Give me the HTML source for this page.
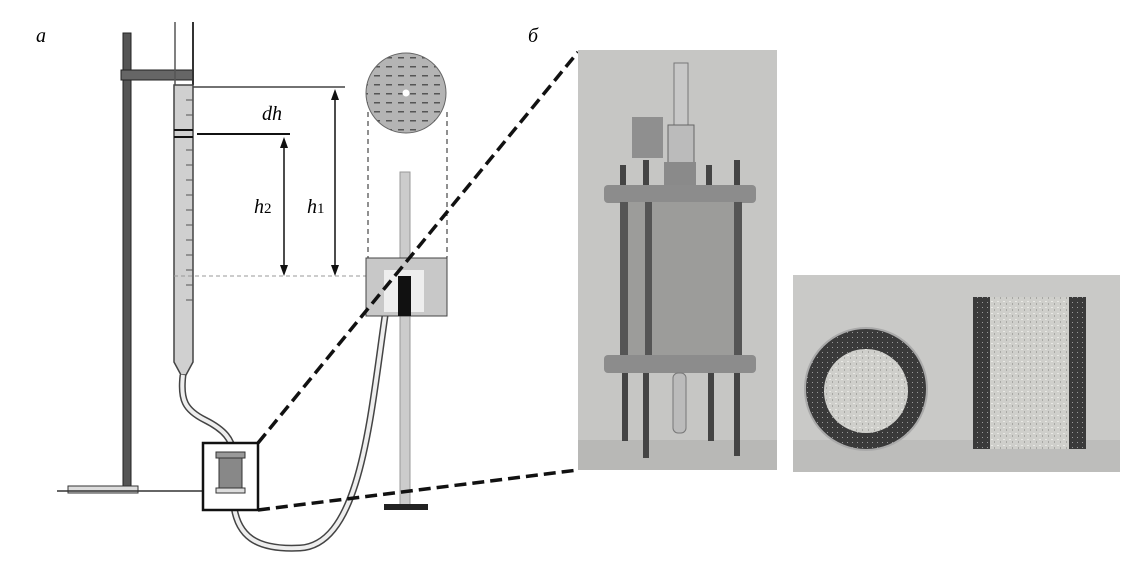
<!DOCTYPE html>
<html><head><meta charset="utf-8"><style>
html,body{margin:0;padding:0;background:#fff;}
svg{display:block;}
text{font-family:"Liberation Serif",serif;font-style:italic;}
</style></head><body>
<svg width="1147" height="561" viewBox="0 0 1147 561" xmlns="http://www.w3.org/2000/svg">
<defs>
<pattern id="grain" width="6" height="6" patternUnits="userSpaceOnUse">
<rect width="6" height="6" fill="#cfcfcb"/><rect x="1" y="1" width="2" height="1" fill="#e8e8e4"/><rect x="4" y="3" width="1" height="2" fill="#a8a8a4"/>
</pattern>
<pattern id="dark" width="5" height="5" patternUnits="userSpaceOnUse">
<rect width="5" height="5" fill="#3a3a3a"/><rect x="2" y="2" width="1" height="1" fill="#999"/>
</pattern>
<pattern id="dash" width="12" height="9" patternUnits="userSpaceOnUse">
<rect width="12" height="9" fill="#b4b4b4"/><rect x="2" y="3" width="6" height="1.5" fill="#555"/>
</pattern>
</defs>
<text x="36" y="42" font-size="20">а</text>
<text x="528" y="42" font-size="20">б</text>
<!-- stand -->
<rect x="123" y="33" width="8" height="457" fill="#555" stroke="#222"/>
<rect x="68" y="486" width="70" height="7" fill="#ddd" stroke="#333"/>
<line x1="57" y1="491" x2="215" y2="491" stroke="#333" stroke-width="1.5"/>
<rect x="121" y="70" width="72" height="10" fill="#666" stroke="#222"/>
<!-- burette -->
<line x1="175" y1="22" x2="175" y2="85" stroke="#555" stroke-width="1.5"/>
<line x1="193" y1="22" x2="193" y2="85" stroke="#333" stroke-width="2"/>
<path d="M174 85 L193 85 L193 362 L186 375 L181 375 L174 362 Z" fill="#d0d0d0" stroke="#444" stroke-width="1.5"/>
<line x1="174" y1="130" x2="193" y2="130" stroke="#111" stroke-width="2"/>
<line x1="174" y1="137" x2="193" y2="137" stroke="#111" stroke-width="2"/>
<g stroke="#555" stroke-width="1">
<line x1="186" y1="100" x2="193" y2="100"/><line x1="186" y1="115" x2="193" y2="115"/>
<line x1="186" y1="150" x2="193" y2="150"/><line x1="186" y1="165" x2="193" y2="165"/>
<line x1="186" y1="180" x2="193" y2="180"/><line x1="186" y1="195" x2="193" y2="195"/>
<line x1="186" y1="210" x2="193" y2="210"/><line x1="186" y1="225" x2="193" y2="225"/>
<line x1="186" y1="240" x2="193" y2="240"/><line x1="186" y1="255" x2="193" y2="255"/>
<line x1="186" y1="270" x2="193" y2="270"/><line x1="186" y1="285" x2="193" y2="285"/>
<line x1="186" y1="300" x2="193" y2="300"/>
</g>
<!-- tube from burette -->
<path d="M183 375 C180 400,185 410,205 420 C225 430,232 440,233 452" fill="none" stroke="#444" stroke-width="7"/>
<path d="M183 375 C180 400,185 410,205 420 C225 430,232 440,233 452" fill="none" stroke="#eee" stroke-width="4"/>
<!-- tube to container -->
<path d="M233 490 C232 540,260 550,300 548 C360 545,370 420,385 316" fill="none" stroke="#444" stroke-width="7"/>
<path d="M233 490 C232 540,260 550,300 548 C360 545,370 420,385 316" fill="none" stroke="#eee" stroke-width="4"/>
<!-- dims -->
<line x1="193" y1="87" x2="345" y2="87" stroke="#444" stroke-width="1.5"/>
<line x1="197" y1="134" x2="290" y2="134" stroke="#111" stroke-width="2"/>
<line x1="174" y1="276" x2="370" y2="276" stroke="#999" stroke-width="1" stroke-dasharray="4,3"/>
<line x1="284" y1="140" x2="284" y2="270" stroke="#111" stroke-width="1.5"/>
<path d="M280 148 L284 137 L288 148Z M280 265 L284 276 L288 265Z" fill="#111"/>
<line x1="335" y1="92" x2="335" y2="270" stroke="#111" stroke-width="1.5"/>
<path d="M331 100 L335 89 L339 100Z M331 265 L335 276 L339 265Z" fill="#111"/>
<text x="262" y="120" font-size="20">dh</text>
<text x="254" y="213" font-size="20">h<tspan font-style="normal" font-size="15">2</tspan></text>
<text x="307" y="213" font-size="20">h<tspan font-style="normal" font-size="15">1</tspan></text>
<!-- right stand -->
<rect x="400" y="172" width="10" height="334" fill="#ccc" stroke="#999"/>
<rect x="384" y="504" width="44" height="6" fill="#222"/>
<!-- circle -->
<circle cx="406" cy="93" r="40" fill="url(#dash)" stroke="#666"/>
<circle cx="406" cy="93" r="3.5" fill="#fff"/>
<line x1="368" y1="112" x2="368" y2="258" stroke="#222" stroke-dasharray="5,4"/>
<line x1="447" y1="112" x2="447" y2="258" stroke="#222" stroke-dasharray="5,4"/>
<!-- container -->
<rect x="366" y="258" width="81" height="58" fill="#c8c8c8" stroke="#444"/>
<rect x="384" y="270" width="40" height="42" fill="#eee"/>
<rect x="398" y="276" width="13" height="40" fill="#111"/>
<!-- box -->
<rect x="203" y="443" width="55" height="67" fill="#fff" stroke="#111" stroke-width="2.5"/>
<rect x="216" y="452" width="29" height="6" fill="#999" stroke="#333"/>
<rect x="219" y="458" width="23" height="30" fill="#888" stroke="#333"/>
<rect x="216" y="488" width="29" height="5" fill="#ddd" stroke="#333"/>
<!-- big dashed -->
<line x1="258" y1="443" x2="578" y2="52" stroke="#111" stroke-width="3.5" stroke-dasharray="12,6"/>
<line x1="258" y1="510" x2="578" y2="470" stroke="#111" stroke-width="3.5" stroke-dasharray="12,6"/>
<!-- photo 1 -->
<rect x="578" y="50" width="199" height="420" fill="#c6c6c4"/>
<rect x="578" y="440" width="199" height="30" fill="#b8b8b6"/>
<rect x="674" y="63" width="14" height="100" fill="#c8c8c8" stroke="#777"/>
<rect x="668" y="125" width="26" height="40" fill="#bbb" stroke="#666"/>
<rect x="632" y="117" width="31" height="41" fill="#8f8f8f"/>
<rect x="664" y="162" width="32" height="26" fill="#8a8a8a"/>
<g fill="#444"><rect x="620" y="165" width="6" height="22"/><rect x="643" y="160" width="6" height="27"/><rect x="706" y="165" width="6" height="22"/><rect x="734" y="160" width="6" height="27"/></g>
<rect x="604" y="185" width="152" height="18" rx="4" fill="#8c8c8c"/>
<rect x="620" y="202" width="122" height="153" fill="#9c9c9a"/>
<rect x="620" y="202" width="8" height="153" fill="#555"/>
<rect x="645" y="202" width="7" height="153" fill="#555"/>
<rect x="734" y="202" width="8" height="153" fill="#555"/>
<rect x="604" y="355" width="152" height="18" rx="4" fill="#8c8c8c"/>
<g fill="#444"><rect x="622" y="373" width="6" height="68"/><rect x="643" y="373" width="6" height="85"/><rect x="708" y="373" width="6" height="68"/><rect x="734" y="373" width="6" height="83"/></g>
<rect x="673" y="373" width="13" height="60" rx="5" fill="#bbb" stroke="#777"/>
<!-- photo 2 -->
<rect x="793" y="275" width="327" height="197" fill="#c9c9c7"/>
<rect x="793" y="440" width="327" height="32" fill="#bdbdbb"/>
<circle cx="866" cy="389" r="61" fill="url(#dark)" stroke="#aaa" stroke-width="2"/>
<circle cx="866" cy="391" r="42" fill="url(#grain)"/>
<rect x="973" y="297" width="113" height="152" fill="url(#grain)"/>
<rect x="973" y="297" width="17" height="152" fill="url(#dark)"/>
<rect x="1069" y="297" width="17" height="152" fill="url(#dark)"/>
</svg>
</body></html>
